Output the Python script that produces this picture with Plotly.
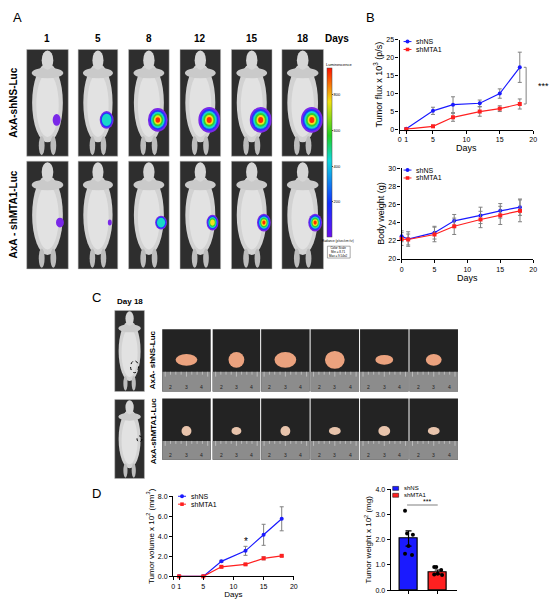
import plotly.graph_objects as go

W, H = 550, 609

# ---------------- data ----------------
flux_days = [1, 5, 8, 12, 15, 18]
flux_shns = [0.2, 5.2, 6.9, 7.3, 10.0, 17.3]
flux_shns_err = [0.2, 1.0, 2.2, 0.9, 1.3, 4.2]
flux_shmta1 = [0.1, 0.9, 3.4, 5.0, 5.8, 7.1]
flux_shmta1_err = [0.1, 0.3, 1.1, 1.3, 0.8, 1.4]

bw_days = [0, 1, 5, 8, 12, 15, 18]
bw_shns = [22.5, 22.2, 22.9, 24.2, 24.8, 25.3, 25.7]
bw_shns_err = [0.6, 0.8, 0.7, 0.7, 0.9, 0.8, 0.9]
bw_shmta1 = [22.2, 22.15, 22.7, 23.6, 24.35, 24.8, 25.3]
bw_shmta1_err = [0.7, 0.6, 0.8, 0.9, 0.9, 1.0, 1.2]

vol_days = [1, 5, 8, 12, 15, 18]
vol_shns = [0, 0, 1.5, 2.55, 4.15, 5.75]
vol_shns_err = [0.05, 0.05, 0.1, 0.45, 1.05, 1.2]
vol_shmta1 = [0, 0, 0.95, 1.2, 1.8, 2.05]
vol_shmta1_err = [0.05, 0.05, 0.08, 0.08, 0.15, 0.08]

wt_groups = ["shNS", "shMTA1"]
wt_mean = [2.05, 0.72]
wt_err = [0.3, 0.08]
wt_pts_shns = [3.15, 2.25, 2.2, 1.75, 1.45, 1.4]
wt_pts_shmta1 = [0.92, 0.92, 0.6, 0.65, 0.62, 0.8]
wt_jitter = [-0.12, -0.05, 0.15, 0.0, -0.12, 0.12]

image_days = ["1", "5", "8", "12", "15", "18"]
# luminescence spot: (levels, half-width, half-height) per day
lum_shns = [(1, 4, 6), (3, 7, 9), (6, 10, 12), (6, 11, 13), (6, 11, 13), (6, 11, 13)]
lum_shmta1 = [(1, 4, 5), (1, 2, 3), (3, 6, 7), (5, 6, 8), (6, 7, 9), (6, 7, 9)]
tumor_shns = [(11, 6), (8, 8), (11, 8), (10, 9), (9, 5), (8, 6)]
tumor_shmta1 = [(5, 5), (5, 4), (5, 5), (6, 4), (6, 5), (6, 4)]

BLUE = "#1a1aff"
RED = "#ff2020"
GREY = "#808080"
FONT = "Arial, Liberation Sans, sans-serif"


def px(x):
    return x / W


def py(y):
    return 1 - y / H


shapes = []
annotations = []


def rect(x0, y0, x1, y1, fill, line="rgba(0,0,0,0)", lw=0):
    shapes.append(dict(type="rect", xref="paper", yref="paper",
                       x0=px(x0), x1=px(x1), y0=py(y1), y1=py(y0),
                       fillcolor=fill, line=dict(color=line, width=lw), layer="above"))


def ellipse(cx, cy, rx, ry, fill, line="rgba(0,0,0,0)", lw=0, dash="solid"):
    shapes.append(dict(type="circle", xref="paper", yref="paper",
                       x0=px(cx - rx), x1=px(cx + rx), y0=py(cy + ry), y1=py(cy - ry),
                       fillcolor=fill, line=dict(color=line, width=lw, dash=dash), layer="above"))


def seg(x0, y0, x1, y1, color, lw=1):
    shapes.append(dict(type="line", xref="paper", yref="paper",
                       x0=px(x0), x1=px(x1), y0=py(y0), y1=py(y1),
                       line=dict(color=color, width=lw), layer="above"))


def text(x, y, s, size=10, bold=True, angle=0, color="black", xanchor="center"):
    annotations.append(dict(x=px(x), y=py(y), xref="paper", yref="paper",
                            text=f"<b>{s}</b>" if bold else s, showarrow=False,
                            font=dict(size=size, family=FONT, color=color),
                            textangle=angle, xanchor=xanchor, yanchor="middle"))


def mouse(x0, y0, x1, y1):
    w, h = x1 - x0, y1 - y0
    rect(x0, y0, x1, y1, "#2e2e2e", "#bbbbbb", 0.5)
    ellipse(x0 + 0.5 * w, y0 + 0.5 * h, 0.37 * w, 0.37 * h, "#d2d2d2")
    ellipse(x0 + 0.5 * w, y0 + 0.52 * h, 0.27 * w, 0.3 * h, "#e2e2e2")
    ellipse(x0 + 0.5 * w, y0 + 0.22 * h, 0.38 * w, 0.05 * h, "#cacaca")
    ellipse(x0 + 0.5 * w, y0 + 0.1 * h, 0.14 * w, 0.09 * h, "#d6d6d6")
    ellipse(x0 + 0.36 * w, y0 + 0.9 * h, 0.07 * w, 0.09 * h, "#bdbdbd")
    ellipse(x0 + 0.64 * w, y0 + 0.9 * h, 0.07 * w, 0.09 * h, "#bdbdbd")


lum_colors = ["#7a28e8", "#2038ff", "#18d8c8", "#30d030", "#f2e020", "#ff2a00"]


def spot(cx, cy, levels, rx, ry):
    for k in range(levels):
        f = 1 - k / 6.5
        ellipse(cx, cy, rx * f, ry * f, lum_colors[k])


def legend_line(x, y, color, symbol, label):
    seg(x - 4, y, x + 4, y, color, 1)
    if symbol == "square":
        rect(x - 1.8, y - 1.8, x + 1.8, y + 1.8, color)
    else:
        ellipse(x, y, 2, 2, color)
    text(x + 7, y, label, 7, bold=False, xanchor="left")


def legend_box(x, y, color, label):
    rect(x - 3, y - 2, x + 3, y + 2, color, "black", 0.5)
    text(x + 6, y, label, 6, bold=False, xanchor="left")


# ---------------- panel A ----------------
text(16, 14, "A", 13, bold=False)
col_x = [(25, 67), (77, 117), (128, 169), (180, 221), (232, 273), (283, 325)]
for (a, b), d in zip(col_x, image_days):
    text((a + b) / 2, 35, d, 10)
text(339, 35, "Days", 10)
text(12, 100, "AxA-shNS-Luc", 10, angle=-90)
text(12, 213, "AxA - shMTA1-Luc", 10, angle=-90)
for (a, b), l1, l2 in zip(col_x, lum_shns, lum_shmta1):
    mouse(a, 46, b, 154)
    spot(a + 0.72 * (b - a), 46 + 0.66 * 108, *l1)
    mouse(a, 159, b, 268)
    spot(a + 0.8 * (b - a), 159 + 0.57 * 109, *l2)
text(341, 61, "Luminescence", 4, bold=False)
text(340, 240, "Radiance (p/sec/cm²/sr)", 3, bold=False)
rect(329, 245, 352, 257, "white", "#555555", 0.5)
text(340, 251, "Color Scale<br>Min = 8.71<br>Max = 9.54e2", 3, bold=False)

# ---------------- panel C ----------------
text(96, 297, "C", 13, bold=False)
text(129, 301, "Day 18", 8)
mouse(114, 310, 144, 392)
ellipse(134, 367, 4, 6, "rgba(0,0,0,0)", "black", 1, "dot")
mouse(114, 400, 144, 480)
ellipse(139, 440, 2.5, 3, "rgba(0,0,0,0)", "black", 1, "dot")
text(153, 360, "AxA- shNS-Luc", 8, angle=-90)
text(153, 432, "AxA-shMTA1-Luc", 8, angle=-90)
tum_x = [(162, 211), (213, 261), (262, 311), (312, 361), (362, 411), (412, 461)]
rows_c = [((329, 392, 372), tumor_shns, "#eba27e", 360),
          ((399, 461, 442), tumor_shmta1, "#e8c4ac", 432)]
for (y0, y1, yr), sizes, col, cy in rows_c:
    for (a, b), (rx, ry) in zip(tum_x, sizes):
        rect(a, y0, b, y1, "#232323")
        rect(a, yr, b, y1, "#8c8c8c")
        for t in range(9):
            xt = a + 3 + t * (b - a - 6) / 8
            seg(xt, yr, xt, yr + (5 if t % 4 == 0 else 3), "#dddddd", 0.6)
        for lab, fr in zip(["2", "3", "4"], [0.18, 0.5, 0.82]):
            text(a + fr * (b - a), y1 - 5, lab, 5, bold=False, color="#222222")
        ellipse((a + b) / 2, cy, rx, ry, col)

text(96, 495, "D", 13, bold=False)
text(373, 14, "B", 13, bold=False)

# legends
legend_line(410, 38, BLUE, "circle", "shNS")
legend_line(410, 46, RED, "square", "shMTA1")
legend_line(410, 168, BLUE, "circle", "shNS")
legend_line(410, 176, RED, "square", "shMTA1")
legend_line(182, 498, BLUE, "circle", "shNS")
legend_line(182, 506, RED, "square", "shMTA1")
legend_box(398, 490, BLUE, "shNS")
legend_box(398, 497, RED, "shMTA1")

# ---------------- traces ----------------
fig = go.Figure()


def err(vals, color=GREY):
    return dict(type="data", array=vals, visible=True, color=color, thickness=1, width=2)


def line_pair(xs, y1, e1, y2, e2, xa, ya):
    fig.add_trace(go.Scatter(x=xs, y=y1, error_y=err(e1), mode="lines+markers", name="shNS",
                             line=dict(color=BLUE, width=1.2), marker=dict(symbol="circle", size=4, color=BLUE),
                             xaxis=xa, yaxis=ya, cliponaxis=False))
    fig.add_trace(go.Scatter(x=xs, y=y2, error_y=err(e2), mode="lines+markers", name="shMTA1",
                             line=dict(color=RED, width=1.2), marker=dict(symbol="square", size=4, color=RED),
                             xaxis=xa, yaxis=ya, cliponaxis=False))


line_pair(flux_days, flux_shns, flux_shns_err, flux_shmta1, flux_shmta1_err, "x", "y")
line_pair(bw_days, bw_shns, bw_shns_err, bw_shmta1, bw_shmta1_err, "x2", "y2")
line_pair(vol_days, vol_shns, vol_shns_err, vol_shmta1, vol_shmta1_err, "x3", "y3")

# significance bracket, flux at day 18
fig.add_trace(go.Scatter(x=[18.6, 18.95, 18.95, 18.6], y=[flux_shns[-1], flux_shns[-1], flux_shmta1[-1], flux_shmta1[-1]],
                         mode="lines", line=dict(color=GREY, width=1), showlegend=False,
                         xaxis="x", yaxis="y", hoverinfo="skip"))
annotations.append(dict(x=1.02, y=(flux_shns[-1] + flux_shmta1[-1]) / 2, xref="x domain", yref="y", text="***",
                        showarrow=False, font=dict(size=9, family=FONT), xanchor="left"))
annotations.append(dict(x=12, y=vol_shns[3] + vol_shns_err[3] + 0.45, xref="x3", yref="y3", text="*",
                        showarrow=False, font=dict(size=10, family=FONT)))

# tumor weight bars
for i, (g, c) in enumerate(zip(wt_groups, [BLUE, RED])):
    fig.add_trace(go.Bar(x=[i], y=[wt_mean[i]], width=0.62, name=g, marker=dict(color=c, line=dict(color="black", width=1.2)),
                         error_y=dict(type="data", array=[wt_err[i]], color="black", thickness=1.2, width=3),
                         xaxis="x4", yaxis="y4"))
for i, pts in enumerate([wt_pts_shns, wt_pts_shmta1]):
    fig.add_trace(go.Scatter(x=[i + j for j in wt_jitter], y=pts, mode="markers",
                             marker=dict(color="black", size=4), showlegend=False,
                             xaxis="x4", yaxis="y4", cliponaxis=False))
fig.add_trace(go.Scatter(x=[-0.05, 1.0], y=[3.38, 3.38], mode="lines", line=dict(color=GREY, width=1.2),
                         showlegend=False, xaxis="x4", yaxis="y4", hoverinfo="skip"))
annotations.append(dict(x=0.64, y=3.5, xref="x4", yref="y4", text="***", showarrow=False, yanchor="middle",
                        font=dict(size=7, family=FONT)))

# colour bar for panel A
fig.add_trace(go.Scatter(x=[None], y=[None], mode="markers", showlegend=False, xaxis="x", yaxis="y",
                         marker=dict(color=[0], cmin=0, cmax=950,
                                     colorscale=[[0, "#6a10f0"], [0.2, "#1030ff"], [0.45, "#10d8e0"],
                                                 [0.6, "#20d020"], [0.8, "#f0e010"], [1, "#ff1000"]],
                                     showscale=True,
                                     colorbar=dict(x=px(329), xanchor="left", y=py(236), yanchor="bottom",
                                                   len=169, lenmode="pixels", thickness=5, outlinewidth=0.5,
                                                   tickvals=[200, 400, 600, 800], ticks="outside", ticklen=1,
                                                   tickfont=dict(size=4, family=FONT), xpad=0, ypad=0))))


# ---------------- axes ----------------
def ax(domain, rng, tickvals, title, fmt=None, size=9, **kw):
    d = dict(domain=domain, range=rng, tickvals=tickvals, showgrid=False, zeroline=False,
             showline=True, linecolor="black", linewidth=1.3, ticks="outside", ticklen=3,
             tickwidth=1.2, tickcolor="black", tickfont=dict(size=7, family=FONT),
             title=dict(text=title, font=dict(size=size, family=FONT), standoff=2))
    if fmt:
        d["tickformat"] = fmt
    d.update(kw)
    return d


layout_axes = dict(
    xaxis=ax([px(402), px(537)], [0, 20], [0, 1, 5, 10, 15, 20], "Days", anchor="y"),
    yaxis=ax([py(127), py(36)], [0, 25], [0, 5, 10, 15, 20, 25], "Tumor flux x 10<sup>3</sup> (p/s)", anchor="x"),
    xaxis2=ax([px(404), px(537)], [0, 20], [0, 5, 10, 15, 20], "Days", anchor="y2"),
    yaxis2=ax([py(258), py(166)], [20, 30], [20, 22, 24, 26, 28, 30], "Body weight (g)", anchor="x2"),
    xaxis3=ax([px(173), px(295)], [0, 20], [0, 1, 5, 10, 15, 20], "Days", anchor="y3", size=8),
    yaxis3=ax([py(579), py(498)], [0, 8], [0, 2, 4, 6, 8], "Tumor volume x 10<sup>2</sup> (mm<sup>3</sup>)",
              fmt=".1f", anchor="x3", size=8),
    xaxis4=ax([px(393), px(460)], [-0.61, 1.66], [0, 1], None, anchor="y4", showticklabels=False),
    yaxis4=ax([py(593), py(491)], [0, 4], [0, 1, 2, 3, 4], "Tumor weight x 10<sup>2</sup> (mg)",
              fmt=".1f", anchor="x4", size=8),
)
layout_axes["xaxis4"].pop("title")

fig.update_layout(
    width=W, height=H, margin=dict(l=0, r=0, t=0, b=0),
    plot_bgcolor="white", paper_bgcolor="white",
    font=dict(family=FONT, color="black"),
    shapes=shapes, annotations=annotations,
    showlegend=False, bargap=0,
    **layout_axes,
)

fig.write_html("out.html", config={"displayModeBar": False},
               post_script="document.body.style.margin='0px';")
